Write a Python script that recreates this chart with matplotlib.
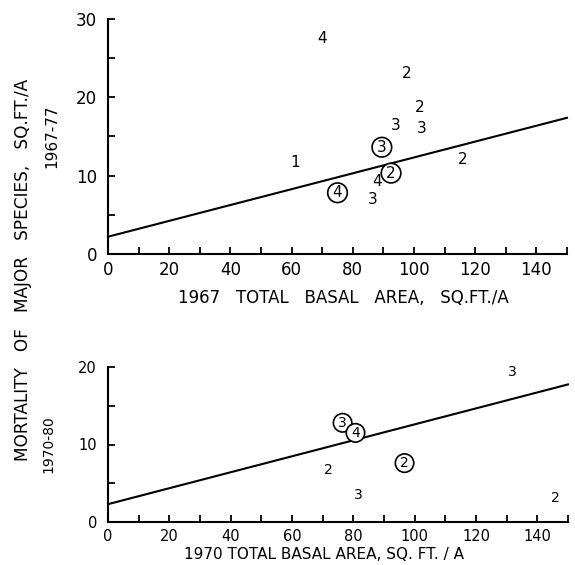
import matplotlib
matplotlib.use("Agg")
import matplotlib.pyplot as plt
from matplotlib.ticker import MultipleLocator
import numpy as np

# top panel: 1967 basal area vs 1967-77 mortality
top_x = [61, 70, 97.5, 102, 102.5, 94, 116, 88, 86.5]
top_y = [11.7, 27.5, 23.0, 18.6, 16.0, 16.4, 12.0, 9.2, 7.0]
top_lbl = ["1", "4", "2", "2", "3", "3", "2", "4", "3"]
top_cx = [89.5, 92.5, 75]
top_cy = [13.6, 10.3, 7.8]
top_clbl = ["3", "2", "4"]
top_fit = (2.2, 0.101)  # intercept, slope

# bottom panel: 1970 basal area vs 1970-80 mortality
bot_x = [132, 72, 81.7, 146]
bot_y = [19.4, 6.7, 3.5, 3.1]
bot_lbl = ["3", "2", "3", "2"]
bot_cx = [76.5, 80.7, 96.7]
bot_cy = [12.8, 11.5, 7.6]
bot_clbl = ["3", "4", "2"]
bot_fit = (2.3, 0.103)

x_ticks = [0, 20, 40, 60, 80, 100, 120, 140]

plt.rcParams["font.family"] = ["DejaVu Sans"]

fig = plt.figure(figsize=(5.75, 5.65), dpi=100)
ax1 = fig.add_axes([108 / 575, 1 - 254 / 565, 459 / 575, 235.5 / 565])
ax2 = fig.add_axes([108 / 575, 1 - 522 / 565, 460 / 575, 155 / 565])


def style_axis(ax, ymax, fs):
    for s in ["top", "right"]:
        ax.spines[s].set_visible(False)
    for s in ["left", "bottom"]:
        ax.spines[s].set_linewidth(1.5)
    ax.set_xlim(0, 150)
    ax.set_ylim(0, ymax)
    ax.set_xticks(x_ticks)
    ax.set_yticks(np.arange(0, ymax + 1, 10))
    ax.xaxis.set_minor_locator(MultipleLocator(10))
    ax.yaxis.set_minor_locator(MultipleLocator(5))
    ax.tick_params(which="both", direction="in", length=5, width=1.3,
                   labelsize=fs)
    ax.tick_params(axis="x", pad=5)
    ax.tick_params(axis="y", pad=8)
    ax.patch.set_alpha(0)


def draw_panel(ax, xs, ys, lbls, cxs, cys, clbls, fit, fs, cpad):
    xx = np.array([0, 150])
    ax.plot(xx, fit[0] + fit[1] * xx, color="black", lw=1.5, clip_on=False)
    for x, y, t in zip(xs, ys, lbls):
        ax.text(x, y, t, ha="center", va="center", fontsize=fs)
    for x, y, t in zip(cxs, cys, clbls):
        ax.text(x, y, t, ha="center", va="center", fontsize=fs,
                bbox=dict(boxstyle=f"circle,pad={cpad}", fc="white",
                          ec="black", lw=1.2))


style_axis(ax1, 30, 12)
style_axis(ax2, 20, 10.5)
draw_panel(ax1, top_x, top_y, top_lbl, top_cx, top_cy, top_clbl,
           top_fit, 11, 0.15)
draw_panel(ax2, bot_x, bot_y, bot_lbl, bot_cx, bot_cy, bot_clbl,
           bot_fit, 10, 0.16)

ax1.set_xlabel("1967   TOTAL   BASAL   AREA,   SQ.FT./A", fontsize=12,
               labelpad=8)
ax1.xaxis.set_label_coords((343 - 108) / 459, -0.15)
ax2.set_xlabel("1970 TOTAL BASAL AREA, SQ. FT. / A", fontsize=11,
               labelpad=3)
ax2.xaxis.set_label_coords((324 - 108) / 460, -0.16)
ax1.set_ylabel("1967-77", fontsize=11, labelpad=12)
ax2.set_ylabel("1970-80", fontsize=10, labelpad=16)

fig.text(23 / 575, 1 - 270 / 565,
         "MORTALITY   OF   MAJOR   SPECIES,   SQ.FT./A",
         rotation=90, ha="center", va="center", fontsize=12.2)

fig.savefig("out.png", dpi=100, facecolor="white")
